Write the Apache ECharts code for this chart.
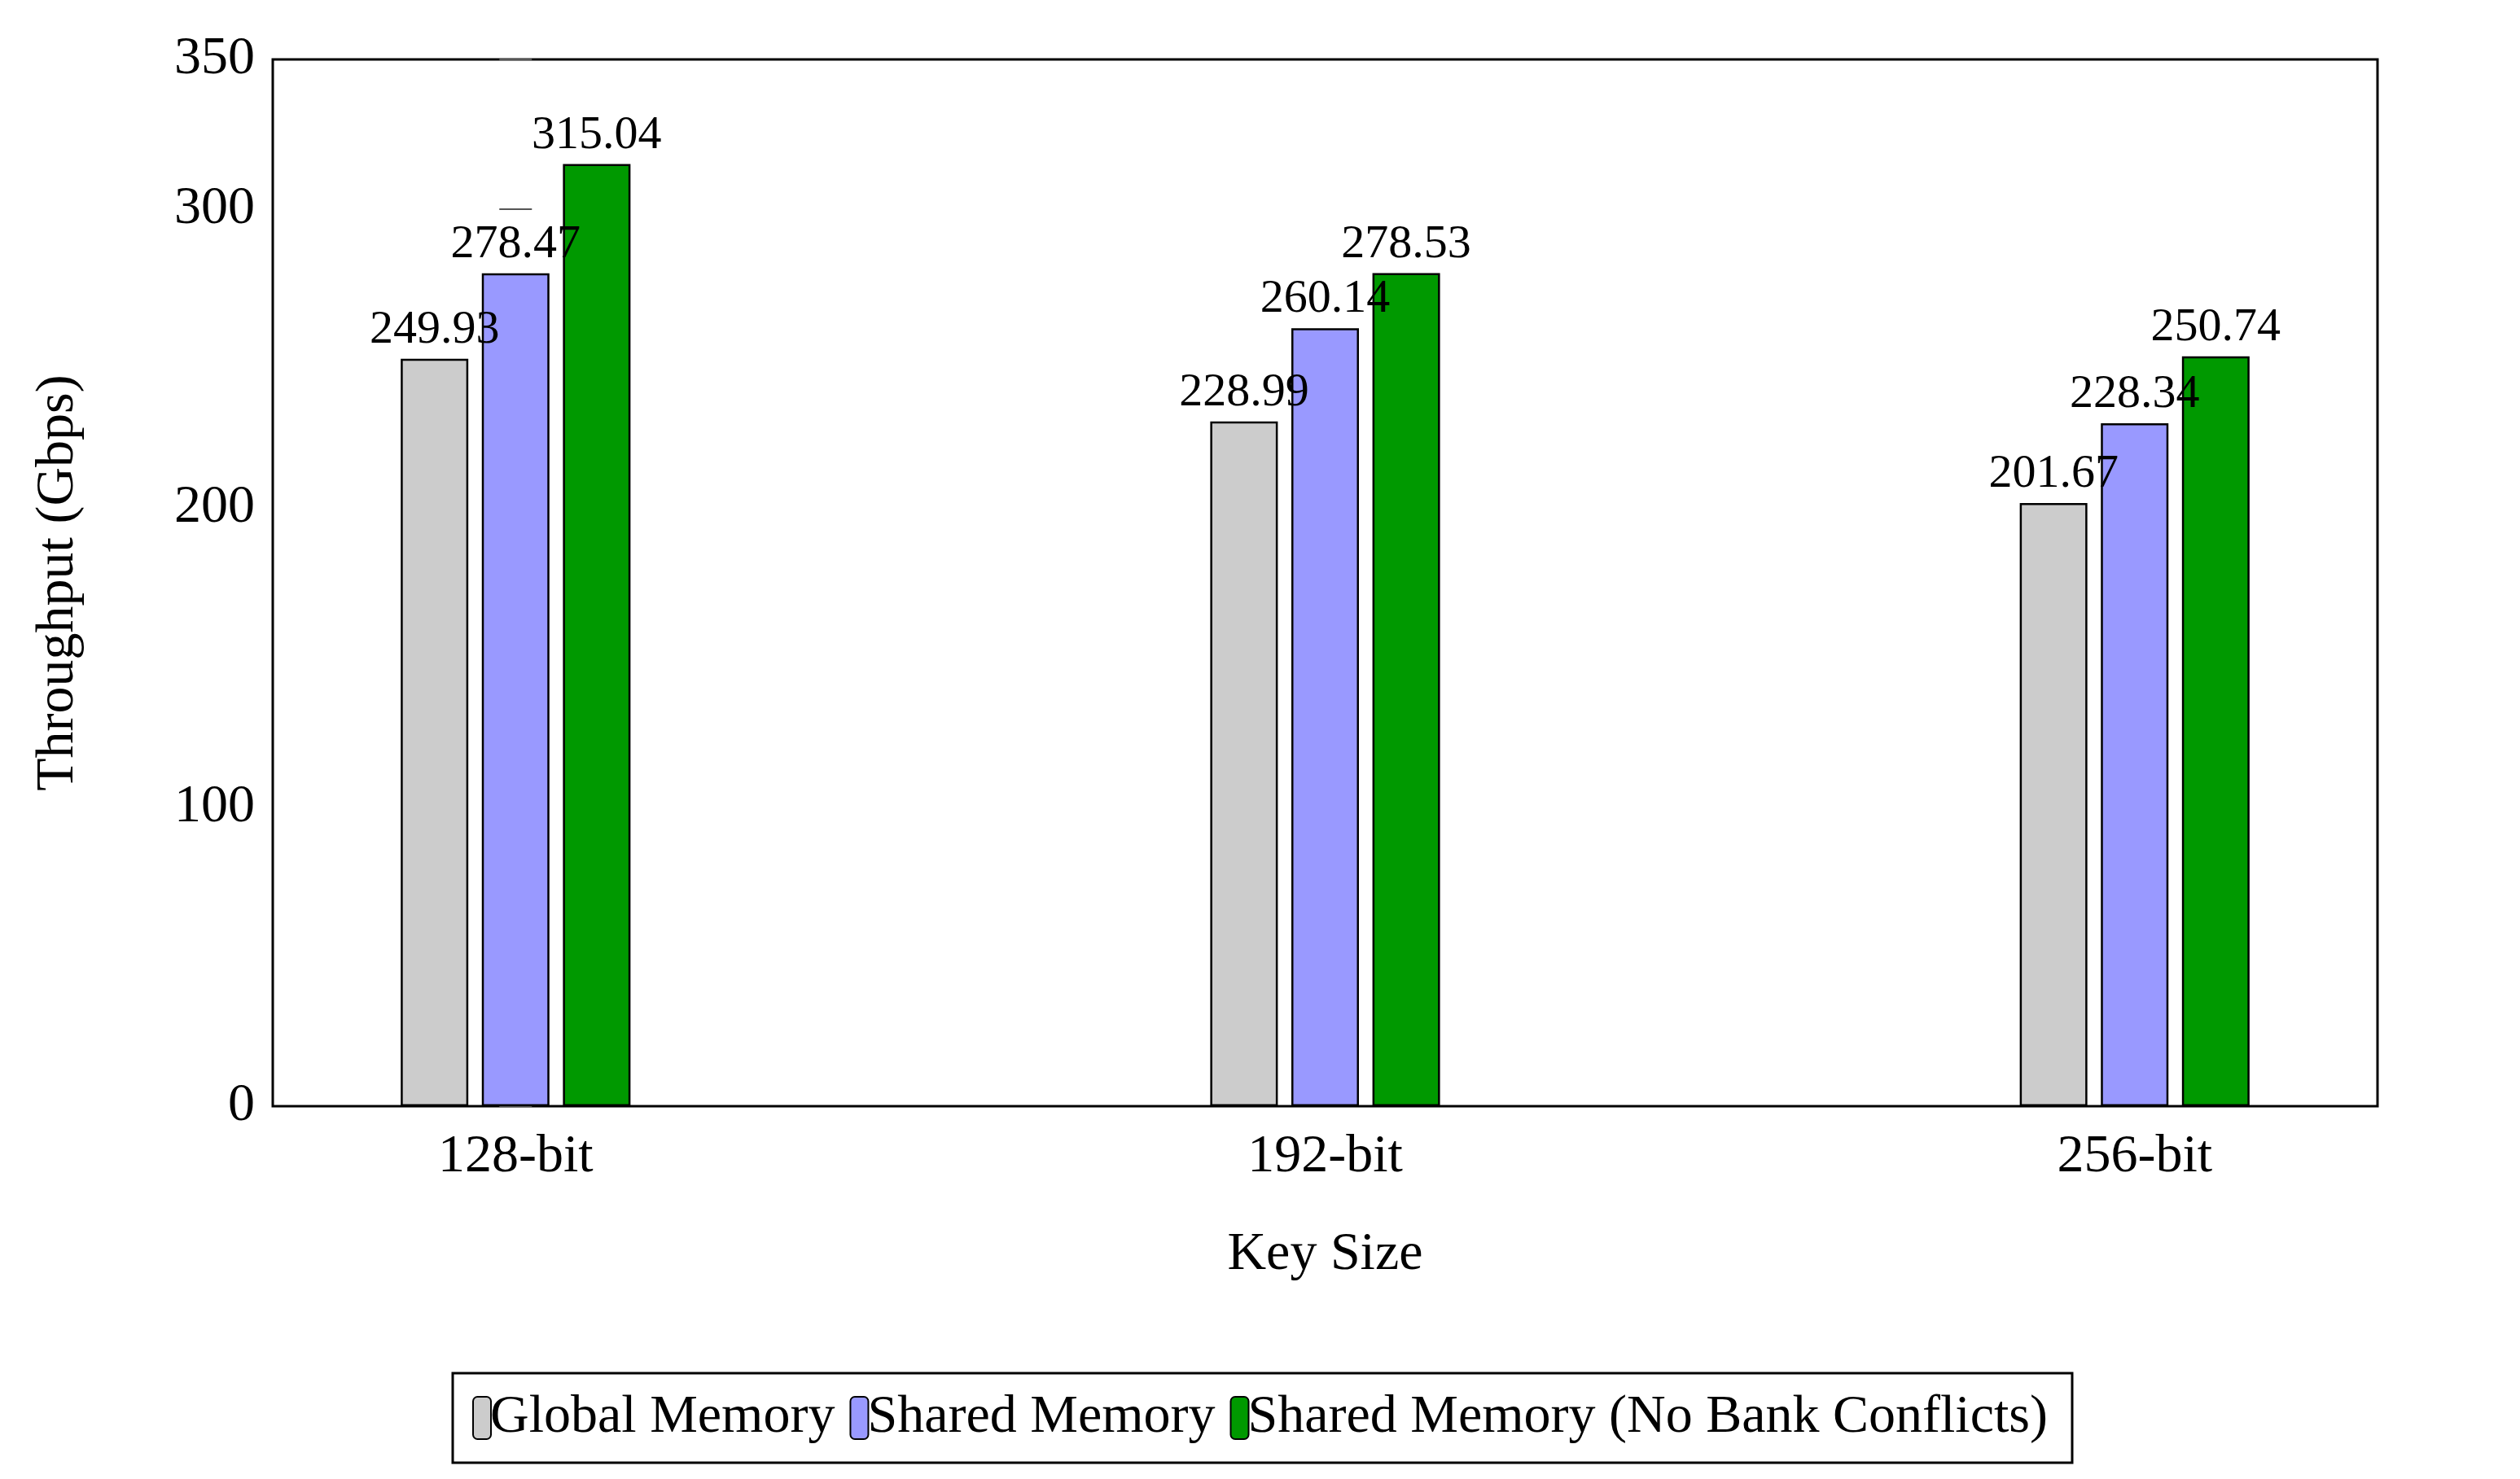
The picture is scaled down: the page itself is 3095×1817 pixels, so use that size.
<!DOCTYPE html>
<html><head><meta charset="utf-8">
<script src="https://cdn.jsdelivr.net/npm/echarts@6/dist/echarts.min.js"></script>
<style>html,body{margin:0;background:#fff}#c{width:3095px;height:1817px}</style>
</head><body><div id="c"></div>
<script>
const categories = ['128-bit','192-bit','256-bit'];
const seriesNames = ['Global Memory','Shared Memory','Shared Memory (No Bank Conflicts)'];
const globalMem = [249.93, 228.99, 201.67];
const sharedMem = [278.47, 260.14, 228.34];
const sharedNoConf = [315.04, 278.53, 250.74];
const colors = ['#cccccc','#9999ff','#009900'];
const font = 'Liberation Serif';
const chart = echarts.init(document.getElementById('c'));
const mk = (name, vals, color) => ({
  name, type:'bar', barWidth:83, barGap:'20%', xAxisIndex:0, yAxisIndex:0,
  data: vals.map((v,i)=>[i,v]),
  itemStyle:{color, borderColor:'#000', borderWidth:2.5},
  label:{show:true, position:'top', distance:6, color:'#000', fontFamily:font, fontSize:58,
    formatter:p=>p.value[1].toFixed(2)}
});
chart.setOption({
  animation:false,
  textStyle:{fontFamily:font},
  grid:{left:335, right:175, top:73, bottom:458, show:true, borderColor:'#000', borderWidth:3},
  legend:{bottom:20, left:'center', itemWidth:22, itemHeight:52, itemGap:18,
    padding:[22,30,22,24], borderColor:'#000', borderWidth:3,
    textStyle:{fontFamily:font, fontSize:66, color:'#000', padding:[0,0,0,-6]},
    data:seriesNames},
  xAxis:[{type:'value', min:-0.3, max:2.3, position:'bottom',
    name:'Key Size', nameLocation:'middle', nameGap:150,
    nameTextStyle:{fontFamily:font, fontSize:66, color:'#000'},
    splitLine:{show:false}, axisLine:{show:false},
    axisTick:{show:true, inside:true, length:20, customValues:[0,1,2], lineStyle:{color:'#555',width:2}},
    axisLabel:{customValues:[0,1,2], formatter:v=>categories[Math.round(v)], fontFamily:font, fontSize:66, color:'#000', margin:30}},
   {type:'value', min:-0.3, max:2.3, position:'top',
    splitLine:{show:false}, axisLine:{show:false}, axisLabel:{show:false},
    axisTick:{show:true, inside:false, length:40, customValues:[0,1,2], lineStyle:{color:'#555',width:2}}}],
  yAxis:[{type:'value', min:0, max:350, interval:100,
    name:'Throughput (Gbps)', nameLocation:'middle', nameGap:230,
    nameTextStyle:{fontFamily:font, fontSize:66, color:'#000'},
    splitLine:{show:false}, axisLine:{show:false},
    axisTick:{show:true, inside:true, length:20, lineStyle:{color:'#555',width:2}},
    axisLabel:{fontFamily:font, fontSize:66, color:'#000', margin:22}},
   {type:'value', min:0, max:350, interval:100, position:'right',
    splitLine:{show:false}, axisLine:{show:false}, axisLabel:{show:false},
    axisTick:{show:true, inside:true, length:20, lineStyle:{color:'#555',width:2}}}],
  series:[mk(seriesNames[0],globalMem,colors[0]), mk(seriesNames[1],sharedMem,colors[1]), mk(seriesNames[2],sharedNoConf,colors[2])]
});
</script></body></html>
